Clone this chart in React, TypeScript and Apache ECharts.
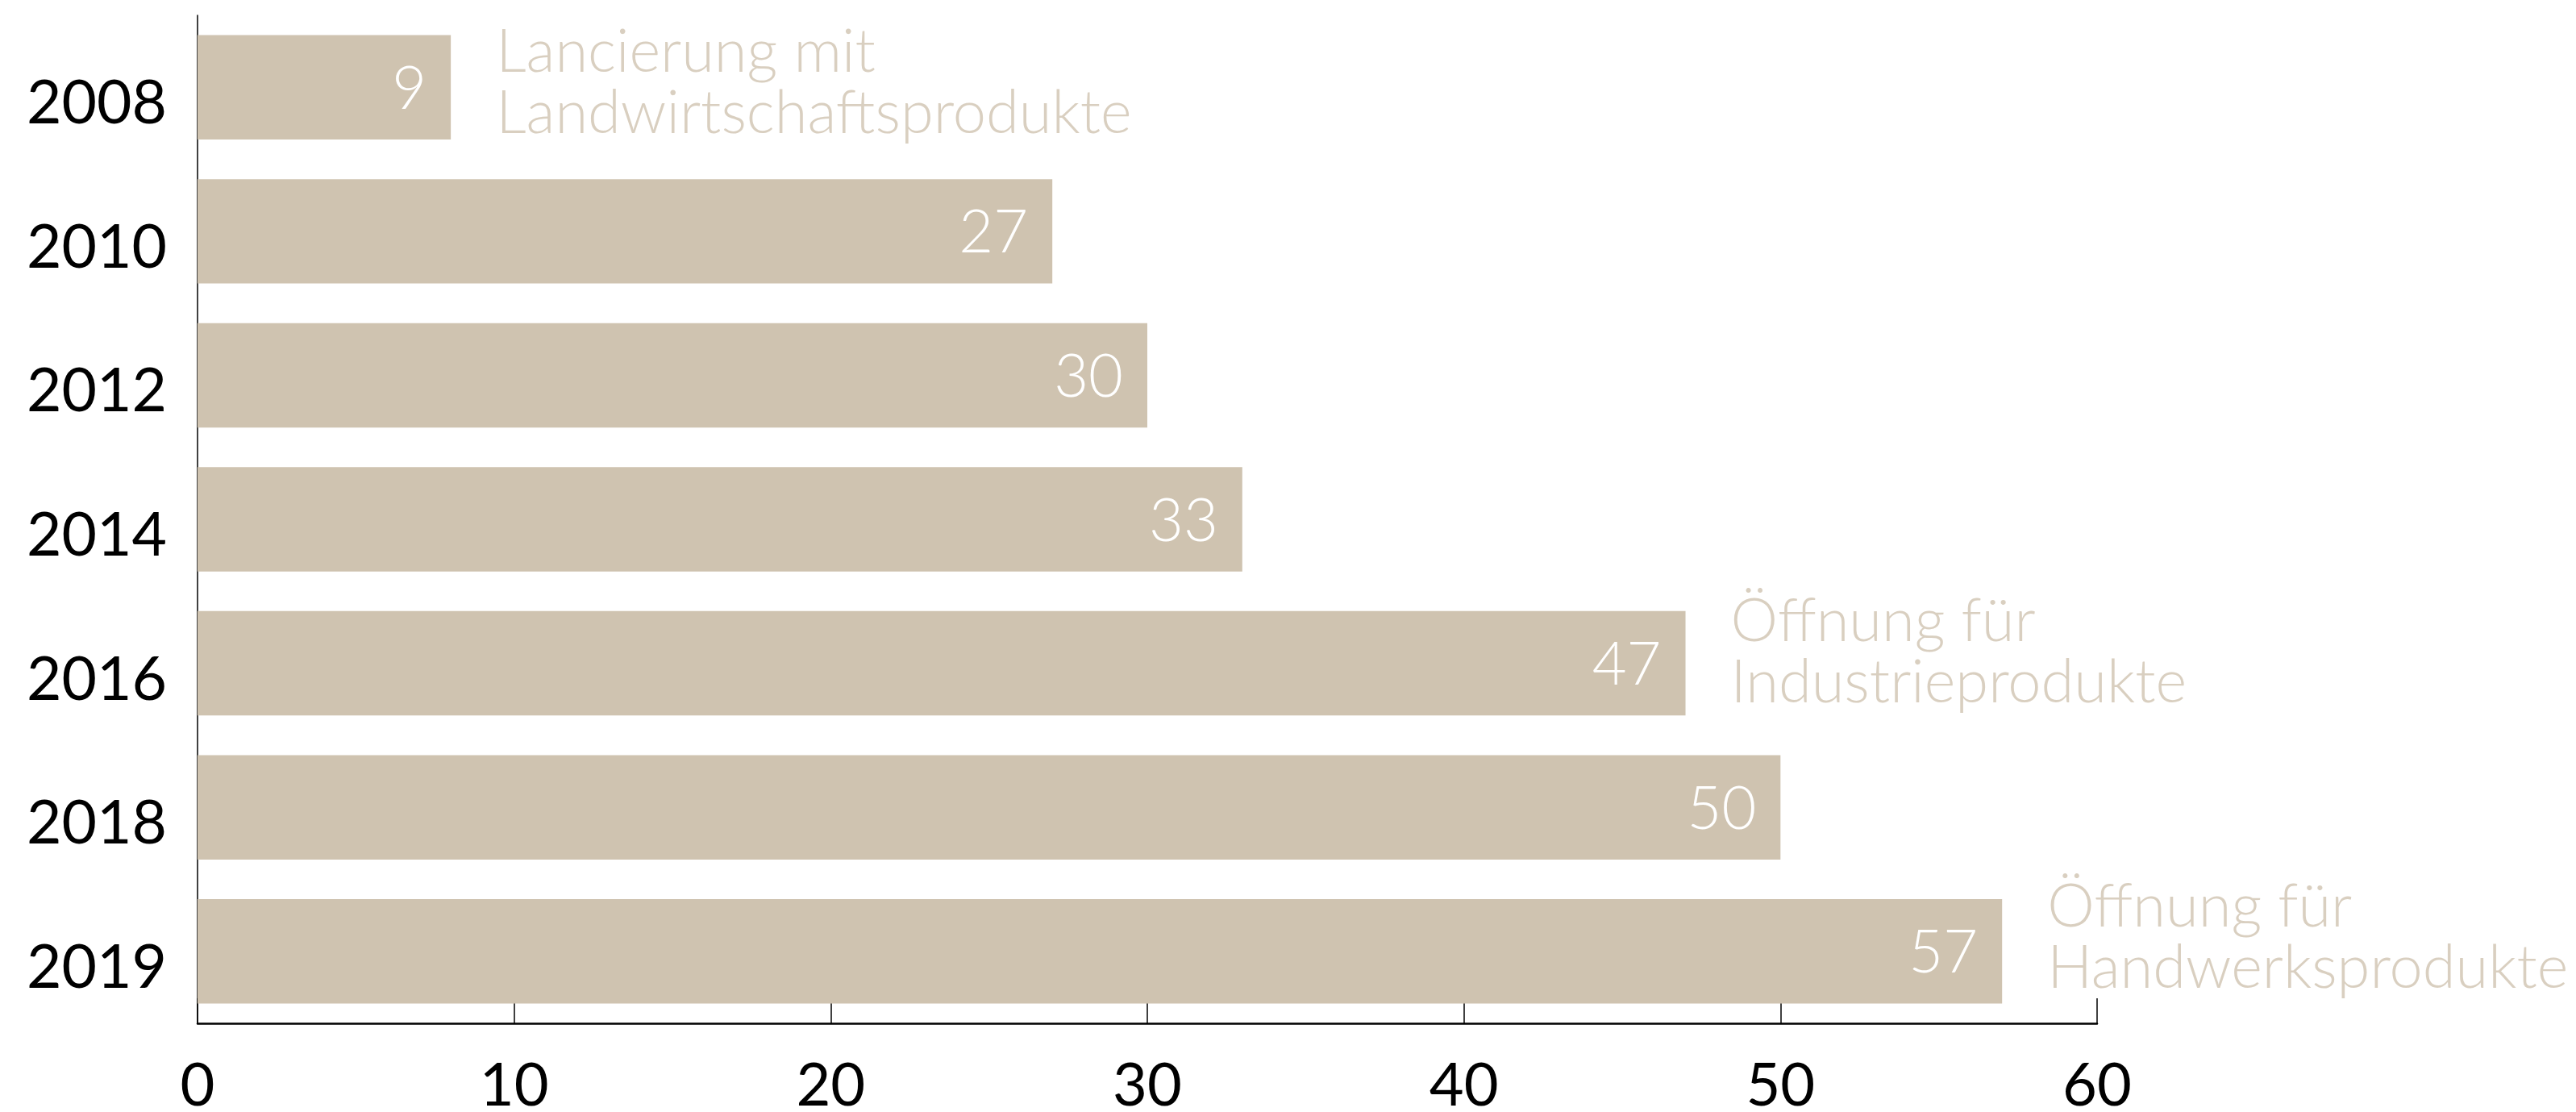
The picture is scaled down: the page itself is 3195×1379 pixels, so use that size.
import React, { useEffect, useRef } from "react";
import * as echarts from "echarts";

const categories = ["2008", "2010", "2012", "2014", "2016", "2018", "2019"];
const barValues = [8, 27, 30, 33, 47, 50, 57];
const valueLabels = ["9", "27", "30", "33", "47", "50", "57"];
const annotations = [
  "Lancierung mit\nLandwirtschaftsprodukte",
  "",
  "",
  "",
  "Öffnung für\nIndustrieprodukte",
  "",
  "Öffnung für\nHandwerksprodukte",
];
const xTicks = [0, 10, 20, 30, 40, 50, 60];

const BAR = "#cfc3b0";
const FONT = "Lato";
const annotationOffsets: Record<number, number> = { 0: -10, 4: -18, 6: -21 };

export default function App() {
  const ref = useRef<HTMLDivElement>(null);
  useEffect(() => {
    document.body.style.margin = "0";
    if (!ref.current) return;
    const chart = echarts.init(ref.current, undefined, { renderer: "svg" });
    chart.setOption({
      animation: false,
      backgroundColor: "#ffffff",
      grid: { left: 245, top: 19, right: 594, bottom: 105, containLabel: false },
      xAxis: {
        type: "value",
        min: xTicks[0],
        max: xTicks[xTicks.length - 1],
        interval: 10,
        splitLine: { show: false },
        axisLine: { show: true, lineStyle: { color: "#000", width: 2.5 } },
        axisTick: { show: true, inside: true, length: 31, lineStyle: { color: "#000", width: 1.5 } },
        axisLabel: { color: "#000", fontFamily: FONT, fontSize: 74, margin: 36 },
      },
      yAxis: {
        type: "category",
        inverse: true,
        data: categories,
        axisLine: { show: true, lineStyle: { color: "#000", width: 1.5 } },
        axisTick: { show: false },
        axisLabel: {
          color: "#000",
          fontFamily: FONT,
          fontSize: 75,
          margin: 38,
          verticalAlign: "top",
          lineHeight: 32,
        },
      },
      series: [
        {
          type: "bar",
          data: barValues,
          barCategoryGap: "27.5%",
          itemStyle: { color: BAR },
          label: {
            show: true,
            position: "insideRight",
            distance: 30,
            color: "#fff",
            fontFamily: FONT,
            fontWeight: 300,
            fontSize: 74,
            offset: [0, -2],
            formatter: (p: any) => valueLabels[p.dataIndex],
          },
          z: 2,
        },
        {
          type: "scatter",
          symbolSize: 0,
          silent: true,
          z: 3,
          data: barValues
            .map((v, i) => ({ value: [v, categories[i]], idx: i }))
            .filter((d) => annotations[d.idx] !== "")
            .map((d) => ({
              value: d.value,
              label: { offset: [0, annotationOffsets[d.idx] ?? -15] },
            })),
          label: {
            show: true,
            position: "right",
            distance: 56,
            color: BAR,
            fontFamily: FONT,
            fontWeight: 300,
            fontSize: 74,
            lineHeight: 76,
            align: "left",
            formatter: (p: any) => annotations[categories.indexOf(p.value[1])],
          },
        },
      ],
    });
    return () => chart.dispose();
  }, []);
  return <div ref={ref} style={{ width: 3195, height: 1379 }} />;
}
